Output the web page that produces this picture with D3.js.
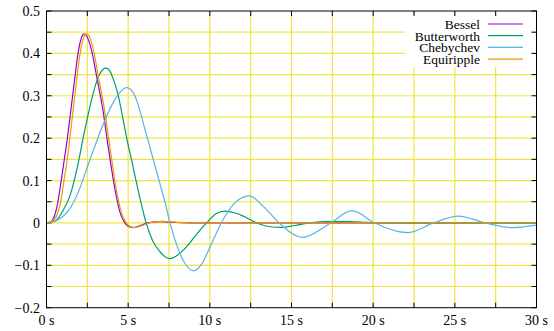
<!DOCTYPE html>
<html><head><meta charset="utf-8">
<script src="https://cdn.jsdelivr.net/npm/d3@7"></script>
</head><body style="margin:0;background:#fff">
<svg id="c" width="554" height="331"></svg>
<script>
const seriesNames = ["Bessel", "Butterworth", "Chebychev", "Equiripple"];
const seriesColors = ["#9400d3", "#009e73", "#56b4e9", "#e69f00"];
const xTicks = [0, 5, 10, 15, 20, 25, 30];
const xTickLabels = ["0 s", "5 s", "10 s", "15 s", "20 s", "25 s", "30 s"];
const yTicks = [0.5, 0.4, 0.3, 0.2, 0.1, 0, -0.1, -0.2];
const yTickLabels = ["0.5", "0.4", "0.3", "0.2", "0.1", "0", "\u22120.1", "\u22120.2"];

const bessel = [[0,0],[0.3,0.004],[0.5,0.018],[0.7,0.05],[0.9,0.1],[1.1,0.152],[1.28,0.2],[1.44,0.25],[1.6,0.3],[1.76,0.35],[1.93,0.4],[2.1,0.432],[2.3,0.446],[2.5,0.438],[2.8,0.4],[3.05,0.35],[3.3,0.3],[3.5,0.255],[3.7,0.2],[3.9,0.148],[4.1,0.1],[4.3,0.058],[4.5,0.025],[4.75,0.003],[5.0,-0.008],[5.3,-0.011],[5.7,-0.007],[6.2,0],[7.0,0.003],[8.0,0.001],[9,0],[30,0]];
const butterworth = [[0,0],[0.5,0.004],[1.0,0.028],[1.48,0.069],[1.89,0.132],[2.3,0.211],[2.7,0.281],[3.0,0.325],[3.21,0.348],[3.45,0.362],[3.63,0.365],[3.85,0.36],[4.1,0.338],[4.4,0.3],[4.66,0.25],[4.91,0.2],[5.2,0.15],[5.48,0.1],[5.77,0.05],[6.1,0],[6.5,-0.042],[6.95,-0.068],[7.3,-0.081],[7.56,-0.084],[7.9,-0.079],[8.58,-0.056],[9.0,-0.036],[9.4,-0.017],[9.8,0],[10.4,0.022],[10.93,0.028],[11.5,0.024],[12.05,0.016],[12.7,0.003],[13.0,-0.002],[13.7,-0.009],[14.4,-0.0105],[15.2,-0.006],[16.1,0],[17.2,0.003],[18.4,0.003],[19.6,0.0015],[20.6,0],[22.5,-0.0005],[25,0],[30,0]];
const chebychev = [[0,0],[0.5,0.004],[1.0,0.015],[1.5,0.038],[2.0,0.078],[2.5,0.132],[3.0,0.185],[3.5,0.235],[4.0,0.278],[4.5,0.308],[4.9,0.319],[5.3,0.308],[5.6,0.28],[6.0,0.225],[6.5,0.155],[7.0,0.085],[7.3,0.042],[7.56,0],[8.0,-0.055],[8.5,-0.097],[8.99,-0.113],[9.5,-0.097],[10.0,-0.058],[10.7,0],[11.5,0.046],[12.42,0.064],[13.3,0.038],[14.25,0],[15.65,-0.034],[17.4,0],[18.7,0.029],[20.1,0],[22.1,-0.023],[23.7,0],[25.2,0.016],[26.85,0],[28.45,-0.011],[30,-0.005]];
const equiripple = [[0,0],[0.4,0.005],[0.65,0.02],[0.87,0.05],[1.07,0.1],[1.27,0.15],[1.43,0.2],[1.58,0.25],[1.73,0.3],[1.89,0.35],[2.06,0.4],[2.23,0.432],[2.44,0.446],[2.65,0.438],[2.92,0.4],[3.15,0.35],[3.4,0.3],[3.6,0.255],[3.8,0.2],[4.0,0.148],[4.18,0.1],[4.38,0.058],[4.58,0.025],[4.85,0.002],[5.1,-0.008],[5.4,-0.011],[5.8,-0.007],[6.3,0],[7.1,0.004],[8.0,0.0015],[9,0],[30,0]];
const allSeries = [bessel, butterworth, chebychev, equiripple];

const FONT = "Liberation Serif";
const svg = d3.select("#c");
const x = d3.scaleLinear().domain([0, 30]).range([46.5, 536.5]);
const y = d3.scaleLinear().domain([-0.2, 0.5]).range([307.7, 11]);

const gridX = d3.range(0, 30.01, 2.5);
const gridY = d3.range(-0.2, 0.501, 0.05);

// grid
const g = svg.append("g");
g.selectAll(".gx").data(gridX.filter(d => d > 0 && d < 30)).join("line")
  .attr("x1", d => x(d)).attr("x2", d => x(d)).attr("y1", y(0.5)).attr("y2", y(-0.2))
  .attr("stroke", "#f0e442").attr("stroke-width", 1.2);
g.selectAll(".gy").data(gridY.filter(d => d > -0.19 && d < 0.49)).join("line")
  .attr("x1", x(0)).attr("x2", x(30)).attr("y1", d => y(d)).attr("y2", d => y(d))
  .attr("stroke", "#f0e442").attr("stroke-width", 1.2);

// legend background
svg.append("rect").attr("x", 405).attr("y", 15).attr("width", 126).attr("height", 52).attr("fill", "#fff");

// ticks (inward, mirrored)
const tk = svg.append("g").attr("stroke", "#000").attr("stroke-width", 1);
gridX.forEach(d => {
  tk.append("line").attr("x1", x(d)).attr("x2", x(d)).attr("y1", y(-0.2)).attr("y2", y(-0.2) - 5);
  tk.append("line").attr("x1", x(d)).attr("x2", x(d)).attr("y1", y(0.5)).attr("y2", y(0.5) + 5);
});
gridY.forEach(d => {
  tk.append("line").attr("x1", x(0)).attr("x2", x(0) + 5).attr("y1", y(d)).attr("y2", y(d));
  tk.append("line").attr("x1", x(30)).attr("x2", x(30) - 5).attr("y1", y(d)).attr("y2", y(d));
});

// curves
const line = d3.line().x(d => x(d[0])).y(d => y(d[1])).curve(d3.curveMonotoneX);
allSeries.forEach((s, i) => {
  svg.append("path").datum(s).attr("d", line).attr("fill", "none")
    .attr("stroke", seriesColors[i]).attr("stroke-width", 1.2);
});

// frame
svg.append("rect").attr("x", x(0)).attr("y", y(0.5)).attr("width", x(30) - x(0)).attr("height", y(-0.2) - y(0.5))
  .attr("fill", "none").attr("stroke", "#000").attr("stroke-width", 1);

// labels
xTicks.forEach((d, i) => {
  svg.append("text").attr("x", x(d)).attr("y", 325).attr("text-anchor", "middle")
    .style("font-family", `"${FONT}"`).style("font-size", "14px").text(xTickLabels[i]);
});
yTicks.forEach((d, i) => {
  svg.append("text").attr("x", 40).attr("y", y(d) + 5).attr("text-anchor", "end")
    .style("font-family", `"${FONT}"`).style("font-size", "14px").text(yTickLabels[i]);
});

// legend
seriesNames.forEach((n, i) => {
  const yy = 24 + i * 11.7;
  svg.append("text").attr("x", 480).attr("y", yy + 5).attr("text-anchor", "end")
    .style("font-family", `"${FONT}"`).style("font-size", "13.5px").text(n);
  svg.append("line").attr("x1", 488).attr("x2", 523).attr("y1", yy).attr("y2", yy)
    .attr("stroke", seriesColors[i]).attr("stroke-width", 1.2);
});
svg.selectAll("text").each(function () { this.getComputedTextLength(); });
</script>
</body></html>
